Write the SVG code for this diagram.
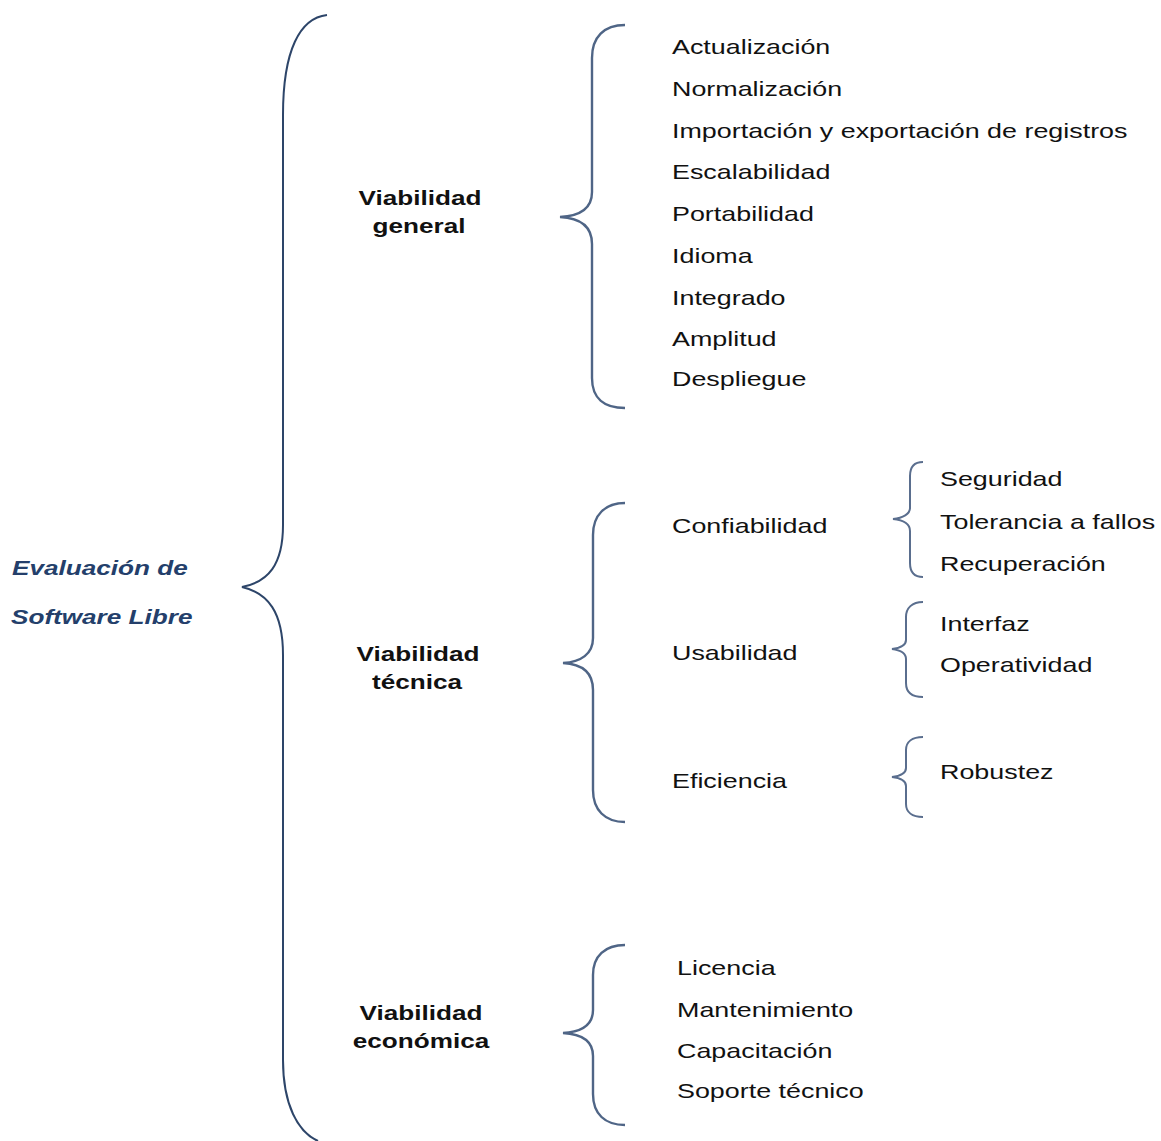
<svg xmlns="http://www.w3.org/2000/svg" width="1161" height="1141" viewBox="0 0 1161 1141">
<style>
.t{font-family:"Liberation Sans",Arial,sans-serif;font-size:21px;fill:#111}
.b{font-family:"Liberation Sans",Arial,sans-serif;font-size:19.5px;font-weight:bold;fill:#111;text-anchor:middle}
.r{font-family:"Liberation Sans",Arial,sans-serif;font-size:19.5px;font-weight:bold;font-style:italic;fill:#243f6b}
.big{fill:none;stroke:#2d4569;stroke-width:2}
.br{fill:none;stroke:#4f6586;stroke-width:2.4}
.sm{fill:none;stroke:#5a6e8e;stroke-width:2}
</style>
<rect width="1161" height="1141" fill="#fff"/>
<g id="connectors">
<path class="big" d="M327,15 C300,18 283,50 283,115 L283,525 C283,565 268,582 242,587 C268,593 283,612 283,655 L283,1060 C283,1105 298,1132 318,1141"/>
<path class="br" d="M625,25 C604,25 592,37 592,58 L592,192 C592,208 580,216 560,217 C580,218 592,226 592,244 L592,378 C592,398 604,408 625,408"/>
<path class="br" d="M625,503 C605,503 593,515 593,535 L593,638 C593,654 581,662 563,663 C581,664 593,672 593,690 L593,790 C593,810 605,822 625,822"/>
<path class="br" d="M625,945 C605,945 593,956 593,975 L593,1010 C593,1025 581,1032 563,1033 C581,1034 593,1041 593,1056 L593,1094 C593,1114 605,1125 625,1125"/>
<path class="sm" d="M923,462 C914,462 910,467 910,476 L910,508 C910,514 903,518 893,519 C903,520 910,524 910,531 L910,563 C910,572 914,577 923,577"/>
<path class="sm" d="M923,602 C912,602 906,608 906,617 L906,640 C906,645 900,648 892,649 C900,650 906,653 906,659 L906,683 C906,692 912,697 923,697"/>
<path class="sm" d="M923,737 C912,737 906,742 906,750 L906,768 C906,773 900,776 892,777 C900,778 906,781 906,786 L906,804 C906,812 912,817 923,817"/>
</g>
<g id="root">
<text class="r" transform="translate(12,575) scale(1.34,1)">Evaluación de</text>
<text class="r" transform="translate(11,624) scale(1.34,1)">Software Libre</text>
</g>
<g id="viabilidad-general">
<text class="b" transform="translate(420,205) scale(1.34,1)">Viabilidad</text>
<text class="b" transform="translate(419,233) scale(1.34,1)">general</text>
</g>
<g id="viabilidad-tecnica">
<text class="b" transform="translate(418,661) scale(1.34,1)">Viabilidad</text>
<text class="b" transform="translate(417,689) scale(1.34,1)">técnica</text>
</g>
<g id="viabilidad-economica">
<text class="b" transform="translate(421,1020) scale(1.34,1)">Viabilidad</text>
<text class="b" transform="translate(421,1048) scale(1.34,1)">económica</text>
</g>
<g id="general-items">
<text class="t" transform="translate(672,54) scale(1.28,1)">Actualización</text>
<text class="t" transform="translate(672,96) scale(1.28,1)">Normalización</text>
<text class="t" transform="translate(672,138) scale(1.28,1)">Importación y exportación de registros</text>
<text class="t" transform="translate(672,179) scale(1.28,1)">Escalabilidad</text>
<text class="t" transform="translate(672,221) scale(1.28,1)">Portabilidad</text>
<text class="t" transform="translate(672,263) scale(1.28,1)">Idioma</text>
<text class="t" transform="translate(672,305) scale(1.28,1)">Integrado</text>
<text class="t" transform="translate(672,346) scale(1.28,1)">Amplitud</text>
<text class="t" transform="translate(672,386) scale(1.28,1)">Despliegue</text>
</g>
<g id="confiabilidad">
<text class="t" transform="translate(672,533) scale(1.28,1)">Confiabilidad</text>
</g>
<g id="usabilidad">
<text class="t" transform="translate(672,660) scale(1.28,1)">Usabilidad</text>
</g>
<g id="eficiencia">
<text class="t" transform="translate(672,788) scale(1.28,1)">Eficiencia</text>
</g>
<g id="confiabilidad-items">
<text class="t" transform="translate(940,486) scale(1.28,1)">Seguridad</text>
<text class="t" transform="translate(940,529) scale(1.28,1)">Tolerancia a fallos</text>
<text class="t" transform="translate(940,571) scale(1.28,1)">Recuperación</text>
</g>
<g id="usabilidad-items">
<text class="t" transform="translate(940,631) scale(1.28,1)">Interfaz</text>
<text class="t" transform="translate(940,672) scale(1.28,1)">Operatividad</text>
</g>
<g id="eficiencia-items">
<text class="t" transform="translate(940,779) scale(1.28,1)">Robustez</text>
</g>
<g id="economica-items">
<text class="t" transform="translate(677,975) scale(1.28,1)">Licencia</text>
<text class="t" transform="translate(677,1017) scale(1.28,1)">Mantenimiento</text>
<text class="t" transform="translate(677,1058) scale(1.28,1)">Capacitación</text>
<text class="t" transform="translate(677,1098) scale(1.28,1)">Soporte técnico</text>
</g>
</svg>
